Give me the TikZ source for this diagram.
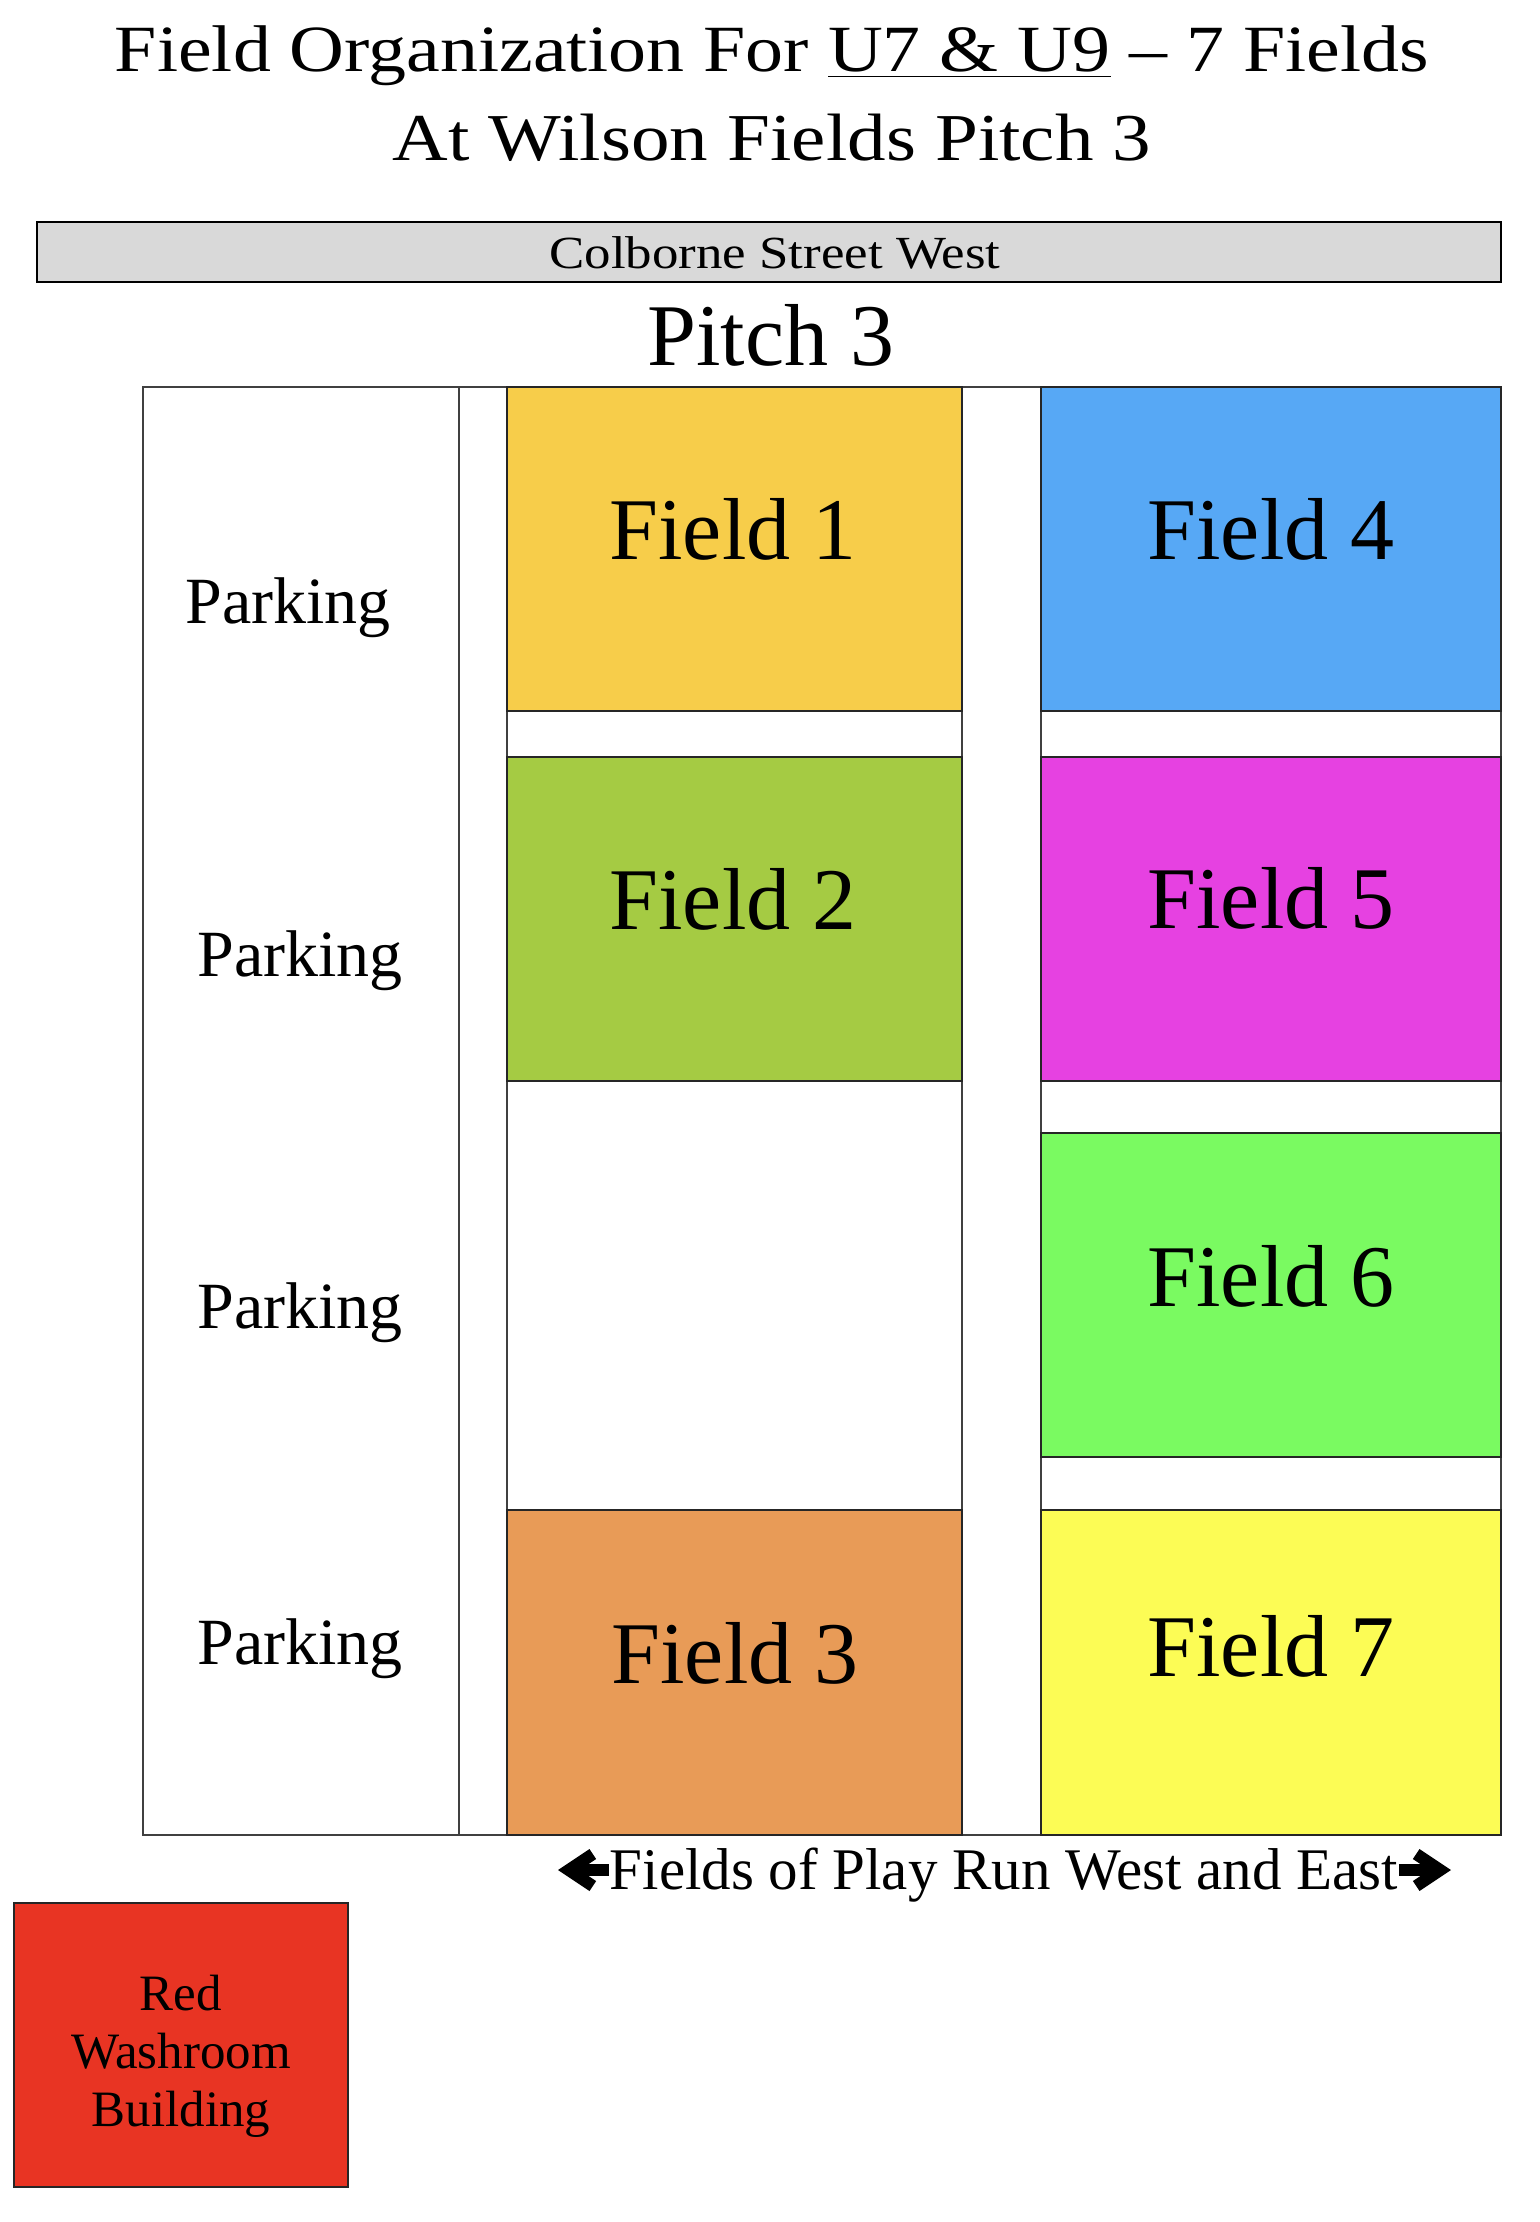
\documentclass[tikz,border=0pt]{standalone}
\usepackage{fontspec}
\setmainfont{Liberation Serif}
\newfontfamily\widefont[FakeStretch=1.15]{Liberation Serif}
\usetikzlibrary{arrows.meta}
\definecolor{fieldOne}{HTML}{F7CD4A}
\definecolor{fieldTwo}{HTML}{A5CB43}
\definecolor{fieldThree}{HTML}{E89B57}
\definecolor{fieldFour}{HTML}{57A8F5}
\definecolor{fieldFive}{HTML}{E641E1}
\definecolor{fieldSix}{HTML}{7AFA61}
\definecolor{fieldSeven}{HTML}{FCFC55}
\definecolor{washroom}{HTML}{E83423}
\definecolor{street}{HTML}{D9D9D9}

\begin{document}
\begin{tikzpicture}[x=0.1mm, y=-0.1mm,
    edge/.style={draw=black!75, line width=0.6pt},
    txt/.style={anchor=base, inner sep=0pt},
    playarrow/.style={line width=1.2mm, -{Straight Barb[length=2.4mm, width=3.2mm]}}]
  \useasboundingbox (0,0) rectangle (1540,2222);

  % Title
  \node[txt, font=\widefont\fontsize{6.6mm}{8.9mm}\selectfont] (title1) at (772,71)
    {Field Organization For \underline{U7 \& U9} – 7 Fields};
  \node[txt, font=\widefont\fontsize{6.7mm}{8.9mm}\selectfont] (title2) at (772,160)
    {At Wilson Fields Pitch 3};

  % Street along the top
  \draw[line width=0.8pt, fill=street] (37,222) rectangle (1501,282);
  \node[txt, font=\widefont\fontsize{4.6mm}{5.5mm}\selectfont] (street) at (775,268) {Colborne Street West};
  \node[txt, font=\fontsize{8.8mm}{10mm}\selectfont] (pitch) at (771,365) {Pitch 3};

  % Outline of the pitch, parking strip and the two field columns
  \draw[edge] (143,387) rectangle (1501,1835);
  \draw[edge] (459,387) -- (459,1835);
  \draw[edge] (507,387) rectangle (962,1835);
  \draw[edge] (1041,387) rectangle (1501,1835);

  % Parking
  \foreach \i/\x/\y in {1/288/623, 2/300/976, 3/300/1328, 4/300/1664}
    \node[txt, font=\fontsize{6.6mm}{8mm}\selectfont] (park\i) at (\x,\y) {Parking};

  % Fields
  \foreach \n/\col/\xa/\ya/\xb/\yb/\tx/\ty in {
    1/fieldOne/507/387/962/711/733/559, 2/fieldTwo/507/757/962/1081/733/929,
    3/fieldThree/507/1510/962/1835/735/1683, 4/fieldFour/1041/387/1501/711/1271/559,
    5/fieldFive/1041/757/1501/1081/1271/928, 6/fieldSix/1041/1133/1501/1457/1271/1306,
    7/fieldSeven/1041/1510/1501/1835/1271/1676} {
    \filldraw[fill=\col, draw=black!85, line width=0.6pt] (\xa,\ya) rectangle (\xb,\yb);
    \node[txt, font=\fontsize{8.8mm}{10mm}\selectfont] (field\n) at (\tx,\ty) {Field \n};
  }

  % Direction of play
  \node[txt, font=\fontsize{5.9mm}{7mm}\selectfont] (play) at (1004,1889) {Fields of Play Run West and East};
  \coordinate (westtip) at (558,1870);
  \coordinate (easttip) at (1451,1870);
  \draw[playarrow] (play.west |- westtip) -- (westtip);
  \draw[playarrow] (play.east |- easttip) -- (easttip);

  % Washroom
  \filldraw[fill=washroom, draw=black!85, line width=0.6pt] (14,1903) rectangle (348,2187);
  \node[align=center, inner sep=0pt, font=\fontsize{5.1mm}{5.8mm}\selectfont] (wash) at (181,2056)
    {Red\\Washroom\\Building};
\end{tikzpicture}
\end{document}
